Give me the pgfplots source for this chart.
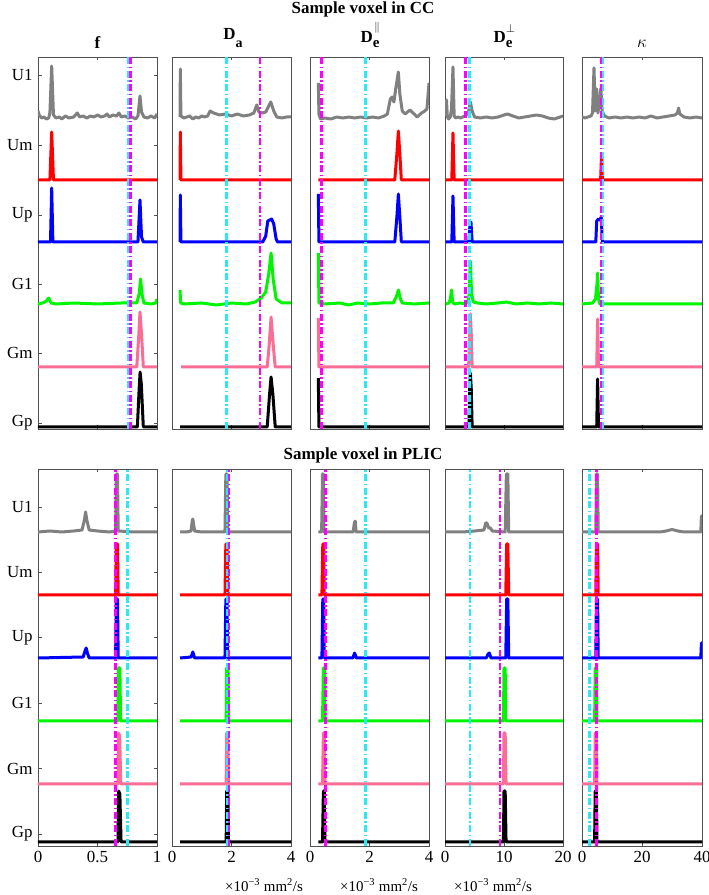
\documentclass[border=0pt]{standalone}
\usepackage{fontspec}
\setmainfont{Liberation Serif}
\usepackage{pgfplots}
\pgfplotsset{compat=1.18}
\definecolor{cgray}{RGB}{128,128,128}
\definecolor{cred}{RGB}{255,0,0}
\definecolor{cblue}{RGB}{0,0,255}
\definecolor{cgreen}{RGB}{0,245,0}
\definecolor{cpink}{RGB}{250,110,150}
\definecolor{cblack}{RGB}{0,0,0}
\definecolor{ccyan}{RGB}{40,235,245}
\definecolor{cmag}{RGB}{255,0,255}
\definecolor{framecol}{RGB}{80,80,80}
\pgfplotsset{
  base/.style={scale only axis, anchor=south west, ymin=0,
    axis line style={draw=framecol, line width=0.8bp},
    tick style={draw=framecol, line width=0.7bp},
    tick align=inside, major tick length=3.5bp,
    xtick pos=both, ytick pos=both, xticklabel pos=lower, yticklabel pos=left,
    ytick=\empty, clip=true,
    /pgf/number format/assume math mode=true,
    tick label style={font=\fontsize{17}{20}\selectfont},
    xticklabel style={yshift=-1.5bp},
    yticklabel style={xshift=-2bp}},
  topp/.style={base, height=372bp, ymax=372, xticklabels={}},
  botp/.style={base, height=377bp, ymax=377},
  cU1/.style={color=cgray, line width=3bp, line join=round},
  cUm/.style={color=cred, line width=3bp, line join=round},
  cUp/.style={color=cblue, line width=3bp, line join=round},
  cG1/.style={color=cgreen, line width=3bp, line join=round},
  cGm/.style={color=cpink, line width=3bp, line join=round},
  cGp/.style={color=cblack, line width=3bp, line join=round},
  vcy/.style={color=ccyan, line width=2.6bp, dash pattern=on 7bp off 2.5bp on 1.5bp off 2.5bp},
  vmg/.style={color=cmag, line width=2.6bp, dash pattern=on 7bp off 2.5bp on 1.5bp off 2.5bp},
}
\begin{document}
\begin{tikzpicture}
\path[use as bounding box] (0,0) rectangle (709bp,895bp);
% ---------------- titles
\node[anchor=base, font=\fontsize{17}{20}\selectfont\bfseries] at (363bp,881.5bp) {Sample voxel in CC};
\node[anchor=base, font=\fontsize{17}{20}\selectfont\bfseries] at (363bp,435bp) {Sample voxel in PLIC};
\node[anchor=base, font=\fontsize{17}{20}\selectfont\bfseries] at (97.5bp,846bp) {f};
\node[anchor=base, font=\fontsize{17}{20}\selectfont\bfseries] at (233bp,855bp) {D\raisebox{-8bp}{\fontsize{14}{14}\selectfont a}};
\node[anchor=base, font=\fontsize{17}{20}\selectfont\bfseries] at (370bp,852bp) {D\rlap{\kern1.5bp\raisebox{12.5bp}{\fontsize{11}{11}\selectfont$\|$}}\raisebox{-5bp}{\fontsize{15}{15}\selectfont e}};
\node[anchor=base, font=\fontsize{17}{20}\selectfont\bfseries] at (503bp,852bp) {D\rlap{\raisebox{10bp}{\fontsize{12}{12}\selectfont$\perp$}}\raisebox{-5bp}{\fontsize{15}{15}\selectfont e}};
\node[anchor=base, font=\fontsize{19}{20}\selectfont] at (642bp,847bp) {$\kappa$};
% units
\node[anchor=base, font=\fontsize{15}{17}\selectfont] at (264bp,4bp) {×10\textsuperscript{−3} mm\textsuperscript{2}/s};
\node[anchor=base, font=\fontsize{15}{17}\selectfont] at (379bp,4bp) {×10\textsuperscript{−3} mm\textsuperscript{2}/s};
\node[anchor=base, font=\fontsize{15}{17}\selectfont] at (493bp,4bp) {×10\textsuperscript{−3} mm\textsuperscript{2}/s};

% ================= TOP BLOCK =================
% f
\begin{axis}[topp, at={(38bp,466bp)}, width=119bp, xmin=0, xmax=1, xtick={0,0.5,1},
  ytick={6,76,145,214,284,354}, yticklabels={Gp,Gm,G1,Up,Um,U1}]
\addplot[cU1] coordinates {(0,318)(0.01,314)(0.03,311)(0.05,312)(0.07,310)(0.09,311)(0.10,316)(0.115,363)(0.13,314)(0.15,311)(0.18,312)(0.2,310)(0.23,313)(0.26,311)(0.3,312)(0.33,316)(0.35,312)(0.38,313)(0.41,311)(0.44,313)(0.47,312)(0.5,314)(0.53,312)(0.56,313)(0.58,315)(0.6,312)(0.63,314)(0.66,313)(0.68,316)(0.7,312)(0.73,313)(0.76,311)(0.79,312)(0.82,310)(0.84,313)(0.857,333)(0.87,317)(0.89,312)(0.92,311)(0.95,313)(0.98,311)(1,315)};
\addplot[cUm] coordinates {(0,249)(0.10,249)(0.115,297)(0.13,249)(1,249)};
\addplot[cUp] coordinates {(0,187)(0.105,187)(0.115,241)(0.125,187)(0.84,187)(0.857,229)(0.87,192)(0.885,187)(1,187)};
\addplot[cG1] coordinates {(0,125)(0.04,126)(0.07,128)(0.09,131)(0.11,126)(0.15,125)(0.3,126)(0.5,125)(0.7,126)(0.83,126)(0.85,135)(0.862,150)(0.875,134)(0.89,126)(0.95,125)(0.99,126)(1,130)};
\addplot[cGm] coordinates {(0,62)(0.83,62)(0.845,90)(0.857,117)(0.87,95)(0.885,62)(1,62)};
\addplot[cGp] coordinates {(0,2)(0.835,2)(0.85,40)(0.858,57)(0.868,45)(0.885,2)(1,2)};
\addplot[vcy] coordinates {(0.757,0)(0.757,372)};
\addplot[vmg] coordinates {(0.779,0)(0.779,372)};
\end{axis}
% Da
\begin{axis}[topp, at={(172bp,466bp)}, width=119bp, xmin=0, xmax=4, xtick={0,2,4}]
\addplot[cU1] coordinates {(0.27,312)(0.28,360)(0.30,313)(0.4,311)(0.5,312)(0.6,313)(0.7,310)(0.8,312)(0.9,311)(1.0,313)(1.1,312)(1.2,313)(1.28,318)(1.4,316)(1.6,314)(1.8,315)(2.0,313)(2.2,315)(2.4,313)(2.6,314)(2.75,316)(2.85,324)(2.92,317)(3.05,316)(3.15,317)(3.32,327)(3.42,318)(3.52,312)(3.7,311)(3.85,312)(4,312)};
\addplot[cUm] coordinates {(0.27,249)(0.28,297)(0.30,249)(4,249)};
\addplot[cUp] coordinates {(0.27,187)(0.28,234)(0.30,187)(3.05,187)(3.15,193)(3.22,208)(3.35,210)(3.42,205)(3.5,190)(3.55,187)(4,187)};
\addplot[cG1] coordinates {(0.27,139)(0.29,126)(0.4,125)(1,126)(1.5,124)(2,126)(2.5,125)(2.8,127)(3.0,131)(3.15,137)(3.25,155)(3.33,176)(3.4,150)(3.5,130)(3.7,126)(4,126)};
\addplot[cGm] coordinates {(0.31,62)(3.2,62)(3.27,85)(3.33,112)(3.4,85)(3.47,62)(4,62)};
\addplot[cGp] coordinates {(0.27,2)(3.2,2)(3.28,35)(3.33,52)(3.39,35)(3.47,2)(4,2)};
\addplot[vcy] coordinates {(1.84,0)(1.84,372)};
\addplot[vmg] coordinates {(2.96,0)(2.96,372)};
\end{axis}
% De par
\begin{axis}[topp, at={(310bp,466bp)}, width=119bp, xmin=0, xmax=4, xtick={0,2,4}]
\addplot[cU1] coordinates {(0.28,346)(0.30,315)(0.35,310)(0.5,311)(0.7,310)(0.9,312)(1.1,311)(1.3,312)(1.5,311)(1.7,312)(1.9,311)(2.1,312)(2.3,311)(2.5,313)(2.6,315)(2.7,330)(2.76,332)(2.82,327)(2.88,340)(2.97,357)(3.02,335)(3.1,318)(3.2,315)(3.36,319)(3.5,315)(3.6,312)(3.75,316)(3.86,318)(3.93,320)(4.0,346)};
\addplot[cUm] coordinates {(0.28,249)(2.85,249)(2.92,275)(2.97,298)(3.02,275)(3.07,249)(4,249)};
\addplot[cUp] coordinates {(0.28,235)(0.30,187)(2.85,187)(2.92,212)(2.97,235)(3.02,212)(3.07,187)(4,187)};
\addplot[cG1] coordinates {(0.28,176)(0.30,126)(0.5,125)(1.0,126)(1.3,124)(1.6,126)(2,125)(2.4,126)(2.8,126)(2.9,132)(2.97,139)(3.04,130)(3.1,126)(3.5,125)(4,126)};
\addplot[cGm] coordinates {(0.28,111)(0.30,62)(4,62)};
\addplot[cGp] coordinates {(0.28,51)(0.30,2)(4,2)};
\addplot[vmg] coordinates {(0.39,0)(0.39,372)};
\addplot[vcy] coordinates {(1.87,0)(1.87,372)};
\end{axis}
% De perp
\begin{axis}[topp, at={(445bp,466bp)}, width=118bp, xmin=0, xmax=20, xtick={0,10,20}]
\addplot[cU1] coordinates {(0.1,313)(0.25,329)(0.4,312)(0.6,310)(0.9,312)(1.1,320)(1.35,362)(1.55,313)(1.8,311)(2.2,312)(2.6,311)(3.0,312)(3.4,313)(3.7,315)(4.0,318)(4.3,327)(4.6,318)(5.0,312)(6,311)(7,312)(8,311)(9,312)(10,314)(10.6,315)(11.5,313)(12.5,311)(13.5,312)(14.5,313)(15.5,314)(16.5,313)(17.5,311)(18.5,310)(19.5,312)(20,313)};
\addplot[cUm] coordinates {(0.1,249)(1.15,249)(1.35,296)(1.55,249)(20,249)};
\addplot[cUp] coordinates {(0.1,187)(1.15,187)(1.35,233)(1.55,187)(4.05,187)(4.25,207)(4.4,207)(4.6,187)(20,187)};
\addplot[cG1] coordinates {(0.1,125)(0.7,126)(0.9,130)(1.1,139)(1.3,127)(1.6,125)(2.5,126)(3.5,125)(3.9,128)(4.1,135)(4.3,168)(4.5,135)(4.8,127)(5.5,126)(7,125)(9,126)(10.5,127)(12,125)(14,126)(16,125)(18,126)(20,125)};
\addplot[cGm] coordinates {(0.1,62)(4.0,62)(4.2,100)(4.3,115)(4.45,95)(4.6,62)(20,62)};
\addplot[cGp] coordinates {(0.1,2)(4.05,2)(4.2,45)(4.3,56)(4.45,40)(4.6,2)(20,2)};
\addplot[vmg] coordinates {(3.48,0)(3.48,372)};
\addplot[vcy] coordinates {(4.15,0)(4.15,372)};
\end{axis}
% kappa
\begin{axis}[topp, at={(582bp,466bp)}, width=120bp, xmin=0, xmax=40, xtick={0,20,40}]
\addplot[cU1] coordinates {(0,312)(1,311)(2,312)(3,313)(3.5,316)(4.0,361)(4.4,318)(4.9,340)(5.3,316)(5.8,325)(6.3,341)(6.7,318)(7.5,313)(9,311)(11,312)(13,311)(15,312)(17,311)(19,312)(21,311)(23,313)(25,311)(27,312)(29,313)(31,314)(31.8,316)(32.2,321)(32.6,315)(34,312)(36,311)(38,312)(40,311)};
\addplot[cUm] coordinates {(0,249)(6.2,249)(6.5,273)(6.8,249)(40,249)};
\addplot[cUp] coordinates {(0,187)(4.6,187)(4.9,208)(5.5,210)(6.0,209)(6.4,212)(6.8,187)(40,187)};
\addplot[cG1] coordinates {(0,125)(3.5,126)(4.5,130)(5.0,145)(5.2,156)(5.5,130)(5.9,125)(40,125)};
\addplot[cGm] coordinates {(0,62)(4.9,62)(5.2,110)(5.5,62)(40,62)};
\addplot[cGp] coordinates {(0,2)(4.9,2)(5.2,50)(5.5,2)(40,2)};
\addplot[vmg] coordinates {(6.5,0)(6.5,372)};
\addplot[vcy] coordinates {(7.0,0)(7.0,372)};
\end{axis}

% ================= BOTTOM BLOCK =================
% f
\begin{axis}[botp, at={(38bp,49bp)}, width=119bp, xmin=0, xmax=1, xtick={0,0.5,1}, xticklabels={0,0.5,1},
  ytick={12,77.5,143,208.5,273.5,339}, yticklabels={Gp,Gm,G1,Up,Um,U1}]
\addplot[cU1] coordinates {(0,314)(0.1,315)(0.2,314)(0.3,315)(0.37,316)(0.39,326)(0.40,334)(0.41,326)(0.43,316)(0.5,315)(0.6,314)(0.652,315)(0.658,372)(0.668,372)(0.674,315)(0.8,314)(1,314)};
\addplot[cUm] coordinates {(0,251)(0.652,251)(0.658,302)(0.668,302)(0.674,251)(1,251)};
\addplot[cUp] coordinates {(0,188)(0.38,189)(0.395,195)(0.405,198)(0.415,193)(0.43,188)(0.652,188)(0.658,247)(0.668,247)(0.674,188)(1,188)};
\addplot[cG1] coordinates {(0,125)(0.672,125)(0.676,178)(0.688,178)(0.694,125)(1,125)};
\addplot[cGm] coordinates {(0,62)(0.672,62)(0.676,113)(0.686,110)(0.696,62)(1,62)};
\addplot[cGp] coordinates {(0,4)(0.672,4)(0.678,55)(0.688,52)(0.698,4)(1,4)};
\addplot[vmg] coordinates {(0.649,0)(0.649,377)};
\addplot[vcy] coordinates {(0.75,0)(0.75,377)};
\end{axis}
% Da
\begin{axis}[botp, at={(172bp,49bp)}, width=119bp, xmin=0, xmax=4, xtick={0,2,4}]
\addplot[cU1] coordinates {(0.27,314)(0.5,314)(0.64,315)(0.68,325)(0.70,327)(0.72,323)(0.76,315)(1.0,314)(1.78,314)(1.81,372)(1.85,372)(1.88,314)(4,314)};
\addplot[cUm] coordinates {(0.27,251)(1.78,251)(1.81,302)(1.85,302)(1.87,251)(4,251)};
\addplot[cUp] coordinates {(0.27,188)(0.64,189)(0.70,194)(0.76,188)(1.78,188)(1.81,247)(1.85,247)(1.87,188)(4,188)};
\addplot[cG1] coordinates {(0.27,125)(1.82,125)(1.84,178)(1.88,178)(1.9,125)(4,125)};
\addplot[cGm] coordinates {(0.27,62)(1.82,62)(1.84,113)(1.88,110)(1.9,62)(4,62)};
\addplot[cGp] coordinates {(0.27,4)(1.82,4)(1.84,55)(1.88,55)(1.9,4)(4,4)};
\addplot[vcy] coordinates {(1.86,0)(1.86,377)};
\addplot[vmg] coordinates {(1.91,0)(1.91,377)};
\end{axis}
% De par
\begin{axis}[botp, at={(310bp,49bp)}, width=119bp, xmin=0, xmax=4, xtick={0,2,4}]
\addplot[cU1] coordinates {(0.28,314)(0.39,314)(0.42,372)(0.45,372)(0.47,314)(1.45,314)(1.49,323)(1.52,325)(1.55,314)(4,314)};
\addplot[cUm] coordinates {(0.28,251)(0.40,251)(0.43,302)(0.46,302)(0.48,251)(4,251)};
\addplot[cUp] coordinates {(0.28,188)(0.40,188)(0.43,247)(0.46,247)(0.48,188)(1.44,188)(1.5,193)(1.56,188)(4,188)};
\addplot[cG1] coordinates {(0.28,125)(0.42,125)(0.45,178)(0.48,178)(0.50,125)(4,125)};
\addplot[cGm] coordinates {(0.28,62)(0.42,62)(0.45,113)(0.48,113)(0.50,62)(4,62)};
\addplot[cGp] coordinates {(0.28,4)(0.42,4)(0.45,55)(0.48,55)(0.50,4)(4,4)};
\addplot[vmg] coordinates {(0.53,0)(0.53,377)};
\addplot[vcy] coordinates {(1.86,0)(1.86,377)};
\end{axis}
% De perp
\begin{axis}[botp, at={(445bp,49bp)}, width=118bp, xmin=0, xmax=20, xtick={0,10,20}]
\addplot[cU1] coordinates {(0,314)(3,314)(5,315)(6.6,316)(6.9,323)(7.1,323)(7.4,318)(7.7,318)(8,315)(10.2,314)(10.4,372)(10.65,372)(10.8,314)(20,314)};
\addplot[cUm] coordinates {(0,251)(10.3,251)(10.45,302)(10.65,302)(10.8,251)(20,251)};
\addplot[cUp] coordinates {(0,188)(7.0,188)(7.3,192)(7.5,193)(7.8,188)(10.3,188)(10.45,247)(10.65,247)(10.8,188)(20,188)};
\addplot[cG1] coordinates {(0,125)(9.9,125)(10.0,178)(10.2,178)(10.3,125)(20,125)};
\addplot[cGm] coordinates {(0,62)(9.9,62)(10.0,113)(10.2,113)(10.35,62)(20,62)};
\addplot[cGp] coordinates {(0,4)(9.9,4)(10.0,55)(10.2,55)(10.35,4)(20,4)};
\addplot[vcy] coordinates {(4.25,0)(4.25,377)};
\addplot[vmg] coordinates {(9.35,0)(9.35,377)};
\end{axis}
% kappa
\begin{axis}[botp, at={(582bp,49bp)}, width=120bp, xmin=0, xmax=40, xtick={0,20,40}]
\addplot[cU1] coordinates {(0,314)(4.6,314)(4.8,372)(5.2,372)(5.4,314)(26,314)(28,315)(30,316.5)(32,315)(34,314)(39.6,314)(39.8,330)(40,330)};
\addplot[cUm] coordinates {(0,251)(4.6,251)(4.8,302)(5.2,302)(5.4,251)(40,251)};
\addplot[cUp] coordinates {(0,188)(4.6,188)(4.8,247)(5.2,247)(5.4,188)(39.6,188)(39.8,203)(40,203)};
\addplot[cG1] coordinates {(0,125)(4.2,125)(4.4,178)(4.8,178)(5.0,125)(40,125)};
\addplot[cGm] coordinates {(0,62)(4.2,62)(4.4,113)(4.8,113)(5.0,62)(40,62)};
\addplot[cGp] coordinates {(0,4)(4.2,4)(4.4,55)(4.8,55)(5.0,4)(40,4)};
\addplot[vcy] coordinates {(2.5,0)(2.5,377)};
\addplot[vmg] coordinates {(4.8,0)(4.8,377)};
\end{axis}
\end{tikzpicture}
\end{document}
